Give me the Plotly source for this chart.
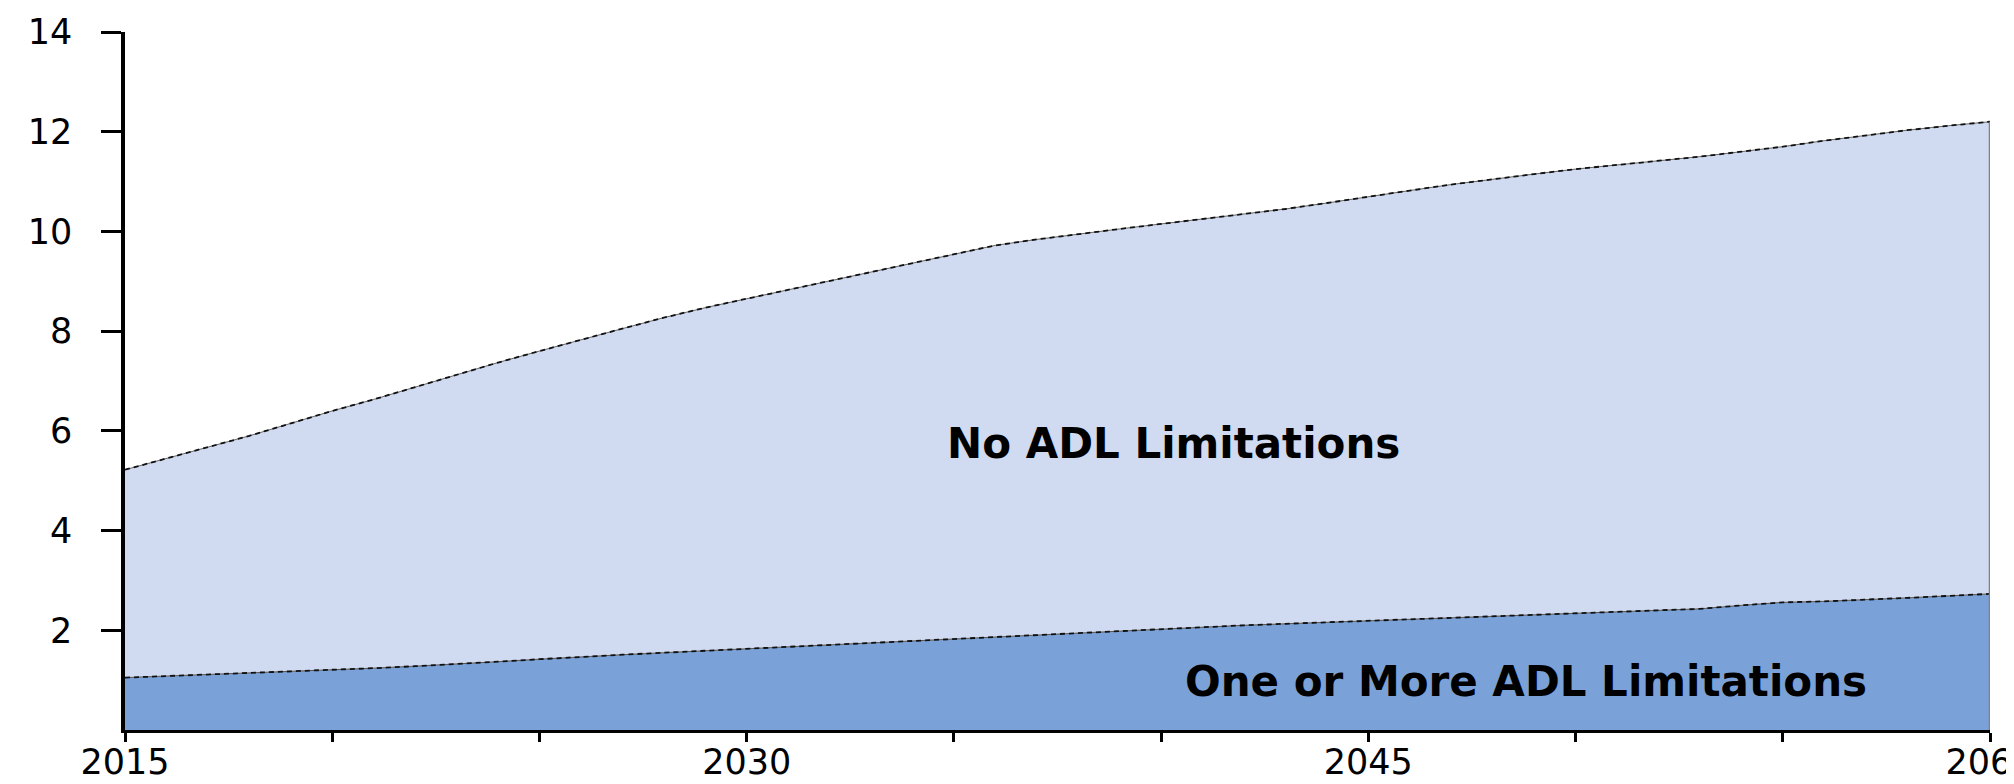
import plotly.graph_objects as go

years = list(range(2015, 2061))
total = [5.22, 5.45, 5.68, 5.90, 6.15, 6.40, 6.63, 6.88, 7.13, 7.37,
         7.60, 7.83, 8.05, 8.27, 8.47, 8.65, 8.83, 9.00, 9.18, 9.36,
         9.55, 9.72, 9.84, 9.95, 10.05, 10.15, 10.25, 10.35, 10.45, 10.57,
         10.70, 10.82, 10.94, 11.05, 11.15, 11.25, 11.33, 11.42, 11.50, 11.60,
         11.70, 11.82, 11.93, 12.03, 12.12, 12.20]
adl_limited = [1.05, 1.08, 1.11, 1.14, 1.17, 1.20, 1.24, 1.28, 1.32, 1.37,
               1.42, 1.47, 1.51, 1.55, 1.59, 1.63, 1.67, 1.71, 1.75, 1.79,
               1.83, 1.87, 1.91, 1.95, 1.99, 2.02, 2.06, 2.10, 2.13, 2.16,
               2.19, 2.22, 2.25, 2.28, 2.31, 2.34, 2.37, 2.40, 2.43, 2.50,
               2.56, 2.58, 2.61, 2.65, 2.69, 2.73]

x_tickvals = list(range(2015, 2061, 5))
x_ticktext = ["2015", "", "", "2030", "", "", "2045", "", "", "2060"]
y_tickvals = [2, 4, 6, 8, 10, 12, 14]
y_ticktext = ["2", "4", "6", "8", "10", "12", "14"]

label_no = "No ADL Limitations"
label_no_pos = (2040.3, 5.74)
label_one = "One or More ADL Limitations"
label_one_pos = (2048.8, 0.98)

LOWER = "#7AA2D9"
UPPER = "#D0DAF0"
FONT = "DejaVu Sans"

fig = go.Figure()
fig.add_trace(go.Scatter(x=years, y=adl_limited, mode="lines", fill="tozeroy",
                         fillcolor=LOWER, line=dict(color="#555555", width=1),
                         showlegend=False, hoverinfo="skip"))
fig.add_trace(go.Scatter(x=years, y=total, mode="lines", fill="tonexty",
                         fillcolor=UPPER, line=dict(color="#666666", width=1),
                         showlegend=False, hoverinfo="skip"))
for series in (adl_limited, total):
    fig.add_trace(go.Scatter(x=years, y=series, mode="lines",
                             line=dict(color="#111111", width=1.8, dash="5px,4px"),
                             showlegend=False, hoverinfo="skip"))
# right edge of the areas
fig.add_trace(go.Scatter(x=[years[-1], years[-1]], y=[0, total[-1]], mode="lines",
                         line=dict(color="#808080", width=2.5),
                         showlegend=False, hoverinfo="skip"))

fig.add_annotation(x=label_no_pos[0], y=label_no_pos[1], text="<b>" + label_no + "</b>",
                   showarrow=False, font=dict(family=FONT, size=42, color="#000000"))
fig.add_annotation(x=label_one_pos[0], y=label_one_pos[1], text="<b>" + label_one + "</b>",
                   showarrow=False, font=dict(family=FONT, size=42, color="#000000"))

fig.update_layout(
    width=2006, height=776,
    margin=dict(l=117, r=24, t=24, b=54),
    paper_bgcolor="white", plot_bgcolor="white",
    font=dict(family=FONT, size=35, color="#000000"),
    xaxis=dict(range=[years[0], years[-1]], tickmode="array",
               tickvals=x_tickvals, ticktext=x_ticktext,
               showgrid=False, zeroline=False, showline=True,
               linecolor="#000000", linewidth=3,
               ticks="outside", ticklen=9, tickwidth=3, tickcolor="#000000",
               ticklabelstandoff=-10, ticklabeloverflow="allow", automargin=False),
    yaxis=dict(range=[0, 14], tickmode="array",
               tickvals=y_tickvals, ticktext=y_ticktext,
               showgrid=False, zeroline=False, showline=True,
               linecolor="#000000", linewidth=3.5,
               ticks="outside", ticklen=20, tickwidth=3, tickcolor="#000000",
               ticklabelstandoff=22, automargin=False),
)

fig.write_html("out.html")
